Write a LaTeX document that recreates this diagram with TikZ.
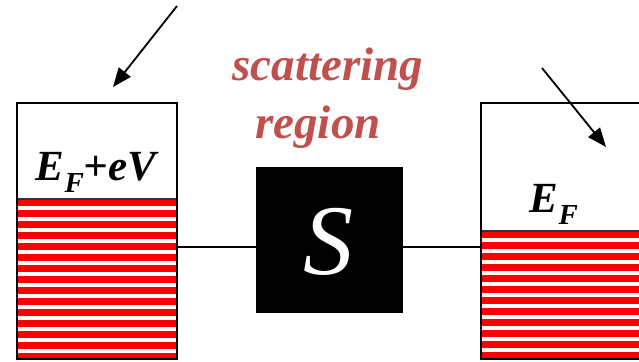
\documentclass[tikz,border=0pt]{standalone}
\usepackage{fontspec}
\setmainfont{Liberation Serif}
\usetikzlibrary{arrows.meta}
\definecolor{regionred}{HTML}{C0504D}
\definecolor{stripered}{HTML}{FF0000}
\tikzset{
  lead/.style={draw=black, line width=1.6pt, fill=none, inner sep=0pt},
  label/.style={font=\bfseries\itshape\fontsize{43}{48}\selectfont, inner sep=0pt},
  regiontext/.style={font=\bfseries\itshape\fontsize{47}{56}\selectfont, text=regionred, inner sep=0pt},
  sbox/.style={fill=black, draw=black, inner sep=0pt, minimum width=146pt, minimum height=145pt},
  conn/.style={line width=1.4pt},
  arr/.style={line width=1.8pt, -{Triangle[length=19pt,width=15pt]}},
  stripe/.style={fill=stripered},
  filltop/.style={line width=1.4pt, draw=black!80}
}
\newcommand{\subF}{\raisebox{-0.3em}{\fontsize{29}{32}\selectfont F}}
\begin{document}
\begin{tikzpicture}[x=1pt,y=-1pt]
\useasboundingbox (0,0) rectangle (639,361);
\clip (0,0) rectangle (639,361);
% stripes
\foreach \i in {0,...,14} \fill[stripe] (17,199.0+11*\i) rectangle (177,205.6+11*\i);
\foreach \i in {0,...,11} \fill[stripe] (481,231.3+11*\i) rectangle (645,237.9+11*\i);
\draw[filltop] (17,199) -- (177,199);
\draw[filltop] (481,231) -- (645,231);
% boxes
\node[lead, minimum width=160pt, minimum height=256pt] (L) at (97,231) {};
\node[lead, minimum width=164pt, minimum height=256pt] (R) at (563,231) {};
\node[sbox] (S) at (329,239.5) {};
\node[font=\itshape\fontsize{100}{100}\selectfont, text=white, anchor=base, inner sep=0pt] (St) at (328,274) {S};
% labels
\node[label, anchor=base] (Lt) at (96,180) {E\subF+eV};
\node[label, anchor=base] (Rt) at (554,212) {E\subF};
\node[regiontext, anchor=base] (sc) at (328,80) {scattering};
\node[regiontext, anchor=base] (rg) at (318,138) {region};
% connectors
\draw[conn] (L.east |- 0,247) -- (S.west |- 0,247);
\draw[conn] (S.east |- 0,247) -- (R.west |- 0,247);
% arrows
\coordinate (a1) at (177,6);
\coordinate (a1t) at (113,87);
\coordinate (a2) at (542,68);
\coordinate (a2t) at (606,147);
\draw[arr] (a1) -- (a1t);
\draw[arr] (a2) -- (a2t);
\end{tikzpicture}
\end{document}
